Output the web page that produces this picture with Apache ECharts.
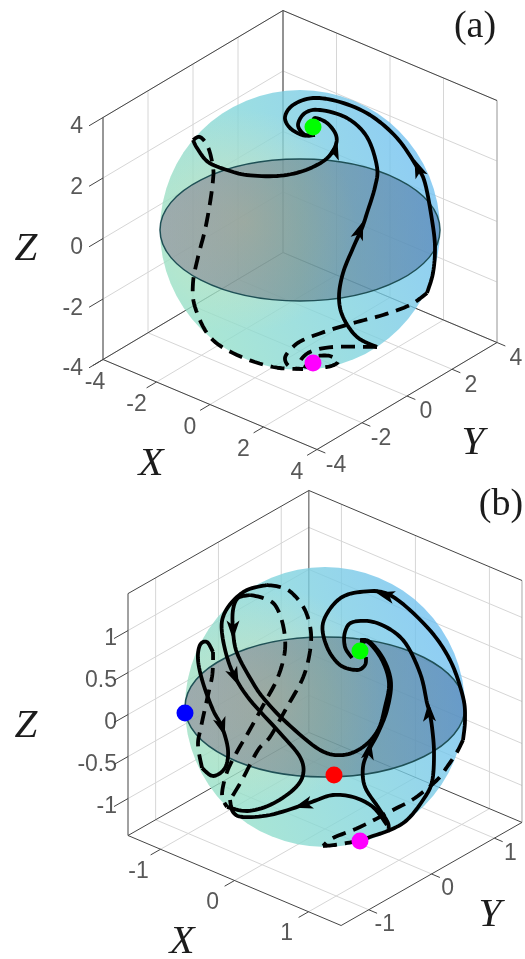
<!DOCTYPE html>
<html>
<head>
<meta charset="utf-8">
<style>html,body{margin:0;padding:0;background:#fff}#main{width:525px;height:959px}</style>
<script src="https://cdn.jsdelivr.net/npm/echarts@6/dist/echarts.min.js"></script>
</head>
<body>
<div id="main"></div>
<script>
// tick values of the two boxes
const ticksA = [-4, -2, 0, 2, 4];
const ticksBxy = [-1, 0, 1];
const ticksBz = [-1, -0.5, 0, 0.5, 1];

// trajectories, in view-plane units around the sphere centre
// panel (a)
const a_solid1 = [[-107,90],[-103,82],[-92,68],[-73,60],[-53,55],[-23,54],[3,59],[25,70],[35,83],[36,95],[27,107],[15,112],[13,106]];
const a_solid2 = [[77,-117],[57,-107],[43,-87],[39,-67],[43,-43],[53,-18],[62,2],[67,17],[75,43],[77,63],[67,93],[47,112],[20,120],[5,117],[-2,105],[5,95],[15,95]];
const a_solid3 = [[127,-63],[133,-43],[135,-17],[132,10],[125,47],[117,63],[97,92],[70,115],[40,128],[13,132],[-7,125],[-15,113],[-10,102],[2,95],[10,95]];
const a_dash1 = [[-107,90],[-100,93],[-92,83],[-87,63],[-87,50],[-90,27],[-95,0],[-102,-27],[-107,-53],[-105,-77],[-90,-107],[-63,-125],[-27,-137],[3,-139]];
const a_dash2 = [[77,-117],[33,-117],[10,-122],[0,-132],[7,-137],[27,-137],[38,-132],[30,-126],[17,-126],[10,-128]];
const a_dash3 = [[127,-63],[110,-75],[83,-85],[57,-92],[30,-100],[3,-110],[-8,-118],[-15,-128],[-10,-137],[3,-139]];
// x, y, heading in degrees clockwise from up
const a_arrows = [[35,80,15],[118,62,-22],[60,0,20]];
const a_green = [[13,103]];
const a_magenta = [[13,-133]];

// panel (b)
const b_solid1 = [[138,-33],[140,-13],[138,10],[125,47],[102,80],[65,112],[35,115],[13,107],[-2,84],[2,60],[15,42],[32,37],[40,42],[41,50]];
const b_solid2 = [[35,-134],[45,-130],[65,-123],[82,-113],[98,-93],[107,-75],[109,-46],[107,-20],[104,-3],[102,4],[95,34],[78,67],[52,84],[28,85],[20,75],[20,60],[27,49]];
const b_solid3 = [[-75,112],[-87,109],[-92,97],[-92,77],[-88,54],[-72,24],[-60,7],[-38,-16],[-5,-43],[18,-48],[38,-40],[53,-23],[60,0],[64,24],[57,47],[43,65],[35,62]];
const b_solid4 = [[63,-125],[63,-116],[53,-100],[40,-80],[38,-60],[44,-43],[53,-26],[62,-3],[66,24],[59,47],[45,65],[35,67]];
const b_solid5 = [[62,-118],[48,-100],[28,-90],[8,-88],[-8,-93],[-22,-98],[-55,-108],[-82,-110],[-92,-105],[-95,-93]];
const b_solid6 = [[-58,122],[-78,117],[-93,105],[-102,90],[-103,74],[-98,50],[-90,30],[-75,7],[-45,-26],[-25,-50],[-22,-68],[-32,-83],[-55,-98],[-78,-104],[-98,-100]];
const b_solid7 = [[-112,55],[-118,65],[-125,62],[-127,47],[-122,24],[-112,-3],[-103,-20],[-97,-43],[-100,-61],[-112,-69],[-123,-61]];
const b_dash1 = [[138,-33],[132,-45],[122,-60],[112,-73],[90,-91],[68,-103],[35,-120],[8,-131],[-2,-139]];
const b_dash2 = [[-2,-139],[10,-138],[28,-135]];
const b_dash3 = [[-123,-61],[-127,-38],[-124,-20],[-117,12],[-113,30],[-112,44],[-112,55]];
const b_dash4 = [[-58,122],[-45,120],[-33,114],[-20,97],[-14,74],[-16,50],[-23,27],[-38,0],[-55,-30],[-67,-43],[-83,-73],[-95,-93]];
const b_dash5 = [[-75,112],[-62,109],[-50,102],[-42,82],[-40,57],[-47,30],[-60,5],[-77,-26],[-87,-43],[-98,-65],[-103,-88],[-98,-100]];
const b_arrows = [[60,112,-75],[104,-5,-3],[44,-43,10],[-22,-98,-107],[-92,77,180],[-90,30,156],[-103,-20,163]];
const b_green = [[35,56]];
const b_red = [[9,-68]];
const b_magenta = [[35,-134]];
const b_blue = [[-140,-6]];

// sphere radius, equator semi-minor axis
const sphereA = [[0, 0, 140, 71]];
const sphereB = [[0, 0, 140, 70]];

const panelA = {
  idx: 0, lim: 4, ax: [26.75, -11.25], ay: [22.5, 13.375], az: [0, 30.25], o: [0, 0],
  xt: ticksA, yt: ticksA, zt: ticksA
};
const panelB = {
  idx: 1, lim: 1.44, ax: [74, -31.25], ay: [62.8, 35.8], az: [0, 84], o: [0, -1],
  xt: ticksBxy, yt: ticksBxy, zt: ticksBz
};

function proj(p, x, y, z) {
  return [
    p.o[0] + x * p.ax[0] + y * p.ay[0] + z * p.az[0],
    p.o[1] + x * p.ax[1] + y * p.ay[1] + z * p.az[1]
  ];
}

function seg(p, list, color, width) {
  // one line series for a list of 3d segments, broken with nulls
  const data = [];
  list.forEach(function (s) {
    data.push(proj(p, s[0], s[1], s[2]), proj(p, s[3], s[4], s[5]), [null, null]);
  });
  return {
    type: 'line', z: 1, xAxisIndex: p.idx, yAxisIndex: p.idx, data: data, symbol: 'none', silent: true,
    connectNulls: false, lineStyle: { color: color, width: width }
  };
}

function boxSeries(p) {
  const L = p.lim;
  const grid = [];
  p.xt.forEach(function (t) {
    grid.push([t, -L, -L, t, L, -L]);
    grid.push([t, L, -L, t, L, L]);
  });
  p.yt.forEach(function (t) {
    grid.push([-L, t, -L, L, t, -L]);
    grid.push([-L, t, -L, -L, t, L]);
  });
  p.zt.forEach(function (t) {
    grid.push([-L, -L, t, -L, L, t]);
    grid.push([-L, L, t, L, L, t]);
  });
  const edges = [
    [-L, -L, L, -L, L, L], [-L, L, L, L, L, L],
    [-L, -L, -L, -L, L, -L], [-L, L, -L, L, L, -L],
    [-L, -L, -L, L, -L, -L], [L, -L, -L, L, L, -L],
    [-L, -L, -L, -L, -L, L], [-L, L, -L, -L, L, L]
  ];
  return [
    seg(p, grid, '#d6d6d6', 1),
    seg(p, [[L, L, -L, L, L, L]], '#a8a8a8', 1),
    seg(p, edges, '#454545', 1)
  ];
}

function tickSeries(p) {
  const L = p.lim, segs = [];
  p.xt.forEach(function (t) { segs.push([t, -L, -L, t, -L - L * 0.11, -L]); });
  p.yt.forEach(function (t) { segs.push([L, t, -L, L + L * 0.078, t, -L]); });
  p.zt.forEach(function (t) { segs.push([-L, -L, t, -L, -L - L * 0.155, t]); });
  return [seg(p, segs, '#454545', 1)];
}

function labelSeries(p, items, align) {
  return {
    type: 'scatter', z: 1, xAxisIndex: p.idx, yAxisIndex: p.idx, data: items, symbolSize: 1, silent: true,
    itemStyle: { color: 'transparent' }, clip: false,
    label: {
      show: true, position: 'inside', formatter: '{b}', align: align, verticalAlign: 'middle',
      color: '#2e2e2e', fontFamily: 'Liberation Sans', fontSize: 23
    }
  };
}

function tickLabels(p, off) {
  const L = p.lim;
  const xs = p.xt.map(function (t) {
    const q = proj(p, t, -L, -L);
    const nudge = (p.idx === 0 && t === -4) ? 12 : 0;
    return { name: String(t), value: [q[0] + off.x[0] + nudge, q[1] + off.x[1]] };
  });
  const ys = p.yt.map(function (t) {
    const q = proj(p, L, t, -L);
    return { name: String(t), value: [q[0] + off.y[0], q[1] + off.y[1]] };
  });
  const zs = p.zt.map(function (t) {
    const q = proj(p, -L, -L, t);
    return { name: String(t), value: [q[0] + off.z[0], q[1] + off.z[1]] };
  });
  return [labelSeries(p, xs, 'center'), labelSeries(p, ys, 'center'), labelSeries(p, zs, 'right')];
}

function sphereSeries(p, data) {
  return {
    type: 'custom', z: 2, xAxisIndex: p.idx, yAxisIndex: p.idx, data: data, silent: true, clip: false,
    renderItem: function (params, api) {
      const c = api.coord([api.value(0), api.value(1)]);
      const r = api.size([api.value(2), 0])[0];
      const ry = api.size([0, api.value(3)])[1];
      return {
        type: 'group',
        children: [
          {
            type: 'circle', shape: { cx: c[0], cy: c[1], r: r },
            style: {
              opacity: 0.78,
              fill: new echarts.graphic.LinearGradient(0.95, 0.35, 0.1, 0.7, [
                { offset: 0, color: '#70c0f0' },
                { offset: 0.5, color: '#7ed3dc' },
                { offset: 1, color: '#92dfc8' }
              ])
            }
          },
          {
            type: 'circle', shape: { cx: c[0], cy: c[1], r: r },
            style: {
              fill: new echarts.graphic.RadialGradient(0.3, 0.47, 0.4, [
                { offset: 0, color: 'rgba(235,230,170,0.5)' },
                { offset: 1, color: 'rgba(235,230,170,0)' }
              ])
            }
          },
          {
            type: 'ellipse', shape: { cx: c[0], cy: c[1], rx: r, ry: ry },
            style: {
              stroke: '#1f5056', lineWidth: 1.5,
              fill: new echarts.graphic.LinearGradient(0, 0, 1, 0, [
                { offset: 0, color: 'rgba(131,100,133,0.45)' },
                { offset: 0.5, color: 'rgba(90,105,115,0.47)' },
                { offset: 1, color: 'rgba(65,105,160,0.5)' }
              ])
            }
          }
        ]
      };
    }
  };
}

// spline through the points that were read, drawn in screen space
function spline(pts) {
  const out = [];
  for (let i = 0; i < pts.length - 1; i++) {
    const p0 = pts[Math.max(i - 1, 0)], p1 = pts[i], p2 = pts[i + 1], p3 = pts[Math.min(i + 2, pts.length - 1)];
    for (let k = 0; k < 8; k++) {
      const t = k / 8, t2 = t * t, t3 = t2 * t;
      out.push([
        0.5 * (2 * p1[0] + (p2[0] - p0[0]) * t + (2 * p0[0] - 5 * p1[0] + 4 * p2[0] - p3[0]) * t2 + (3 * p1[0] - p0[0] - 3 * p2[0] + p3[0]) * t3),
        0.5 * (2 * p1[1] + (p2[1] - p0[1]) * t + (2 * p0[1] - 5 * p1[1] + 4 * p2[1] - p3[1]) * t2 + (3 * p1[1] - p0[1] - 3 * p2[1] + p3[1]) * t3)
      ]);
    }
  }
  out.push(pts[pts.length - 1]);
  return out;
}

function curve(p, data, dashed) {
  return {
    type: 'custom', z: 3, xAxisIndex: p.idx, yAxisIndex: p.idx, data: data, silent: true, clip: false,
    encode: { x: 0, y: 1 },
    renderItem: function (params, api) {
      if (params.dataIndex !== 0) return null;
      const pts = data.map(function (d) { return api.coord(d); });
      return {
        type: 'polyline',
        shape: { points: spline(pts) },
        style: { stroke: '#000', fill: 'none', lineWidth: 3.8, lineDash: dashed ? [14, 8] : null, lineJoin: 'round' }
      };
    }
  };
}

function arrows(p, data) {
  return {
    type: 'scatter', z: 4, xAxisIndex: p.idx, yAxisIndex: p.idx, silent: true, clip: false,
    symbol: 'path://M6,0 L12,20 L6,15 L0,20 Z', symbolSize: [13, 19], symbolKeepAspect: false,
    itemStyle: { color: '#000', opacity: 1 },
    data: data.map(function (d) { return { value: [d[0], d[1]], symbolRotate: -d[2] }; })
  };
}

function dots(p, data, color) {
  return {
    type: 'scatter', z: 5, xAxisIndex: p.idx, yAxisIndex: p.idx, silent: true, clip: false,
    symbol: 'circle', symbolSize: 17, data: data, itemStyle: { color: color, opacity: 1 }
  };
}

function axisTitle(text, x, y, italic, size) {
  return {
    type: 'text', x: x, y: y, silent: true,
    style: {
      text: text, fill: '#1c1c1c', align: 'center', verticalAlign: 'middle',
      font: (italic ? 'italic ' : '') + size + 'px "Liberation Serif"'
    }
  };
}

const series = [].concat(
  boxSeries(panelA), tickSeries(panelA),
  tickLabels(panelA, { x: [-20, -23], y: [19, -16], z: [-20, -9.5] }),
  [sphereSeries(panelA, sphereA)],
  [a_solid1, a_solid2, a_solid3].map(function (d) { return curve(panelA, d, false); }),
  [a_dash1, a_dash2, a_dash3].map(function (d) { return curve(panelA, d, true); }),
  [arrows(panelA, a_arrows), dots(panelA, a_green, '#00ff00'), dots(panelA, a_magenta, '#ff00ff')],

  boxSeries(panelB), tickSeries(panelB),
  tickLabels(panelB, { x: [-22, -22], y: [16, -15], z: [-11, -8.5] }),
  [sphereSeries(panelB, sphereB)],
  [b_solid1, b_solid2, b_solid3, b_solid4, b_solid5, b_solid6, b_solid7].map(function (d) { return curve(panelB, d, false); }),
  [b_dash1, b_dash2, b_dash3, b_dash4, b_dash5].map(function (d) { return curve(panelB, d, true); }),
  [arrows(panelB, b_arrows), dots(panelB, b_green, '#00ff00'), dots(panelB, b_red, '#ff0000'),
    dots(panelB, b_magenta, '#ff00ff'), dots(panelB, b_blue, '#0000ff')]
);

const chart = echarts.init(document.getElementById('main'), null, { renderer: 'canvas' });
chart.setOption({
  animation: false,
  backgroundColor: '#fff',
  grid: [
    { left: 0, top: 0, width: 525, height: 480 },
    { left: 0, top: 480, width: 525, height: 479 }
  ],
  xAxis: [
    { type: 'value', gridIndex: 0, min: -300, max: 225, show: false },
    { type: 'value', gridIndex: 1, min: -325, max: 200, show: false }
  ],
  yAxis: [
    { type: 'value', gridIndex: 0, min: -250, max: 230, show: false },
    { type: 'value', gridIndex: 1, min: -252, max: 227, show: false }
  ],
  graphic: {
    elements: [
      axisTitle('(a)', 475, 27, false, 38),
      axisTitle('X', 151, 464, true, 41),
      axisTitle('Y', 473, 443, true, 41),
      axisTitle('Z', 26, 249, true, 41),
      axisTitle('(b)', 501, 505, false, 38),
      axisTitle('X', 182, 942, true, 41),
      axisTitle('Y', 490, 915, true, 41),
      axisTitle('Z', 26, 726, true, 41)
    ]
  },
  series: series
});
</script>
</body>
</html>
